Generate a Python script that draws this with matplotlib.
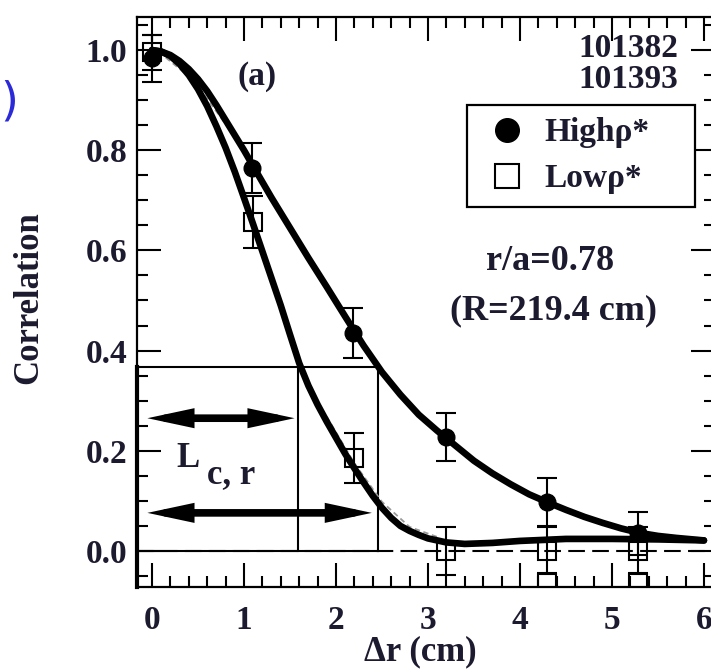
import matplotlib
matplotlib.use("Agg")
import matplotlib.pyplot as plt
from matplotlib.lines import Line2D
from matplotlib.ticker import MultipleLocator

# ---------------- data ----------------
dr_high = [0.0, 1.09, 2.18, 3.20, 4.29, 5.28]
corr_high = [0.984, 0.765, 0.435, 0.228, 0.098, 0.035]
err_high = [0.047, 0.050, 0.050, 0.048, 0.048, 0.043]

dr_low = [0.0, 1.10, 2.20, 3.20, 4.29, 5.28]
corr_low = [0.996, 0.657, 0.186, 0.0, 0.0, 0.0]
err_low_lo = [0.035, 0.052, 0.050, 0.048, 0.044, 0.044]
err_low_hi = [0.035, 0.052, 0.050, 0.048, 0.048, 0.048]

# squares below the axis (clipped at the bottom)
dr_low_out = [4.29, 5.28]
corr_low_out = [-0.064, -0.064]

# fitted curves
fit_high_x = [0.0, 0.1, 0.2, 0.3, 0.4, 0.5, 0.6, 0.7, 0.8, 0.9, 1.0, 1.1, 1.3,
              1.5, 1.7, 1.9, 2.1, 2.3, 2.5, 2.7, 2.9, 3.1, 3.3, 3.5, 3.7, 3.9,
              4.1, 4.3, 4.5, 4.7, 4.9, 5.1, 5.3, 5.5, 5.7, 6.0]
fit_high_y = [1.000, 0.997, 0.990, 0.978, 0.962, 0.942, 0.918, 0.890, 0.860,
              0.830, 0.800, 0.768, 0.705, 0.645, 0.585, 0.527, 0.468, 0.410,
              0.357, 0.312, 0.272, 0.240, 0.210, 0.180, 0.155, 0.133, 0.113,
              0.097, 0.082, 0.068, 0.056, 0.045, 0.036, 0.030, 0.026, 0.021]

fit_low_x = [0.0, 0.1, 0.2, 0.3, 0.4, 0.5, 0.6, 0.7, 0.8, 0.9, 1.0, 1.1, 1.2,
             1.3, 1.4, 1.5, 1.6, 1.7, 1.8, 1.9, 2.0, 2.1, 2.2, 2.3, 2.4, 2.5,
             2.6, 2.7, 2.8, 2.9, 3.0, 3.2, 3.4, 3.7, 4.0, 4.5, 5.0, 5.5, 6.0]
fit_low_y = [1.000, 0.997, 0.988, 0.972, 0.950, 0.922, 0.888, 0.848, 0.805,
             0.757, 0.705, 0.652, 0.598, 0.544, 0.490, 0.432, 0.375, 0.330,
             0.292, 0.258, 0.226, 0.194, 0.165, 0.137, 0.110, 0.086, 0.066,
             0.050, 0.040, 0.032, 0.025, 0.017, 0.014, 0.016, 0.020, 0.024,
             0.024, 0.023, 0.021]

# faint dashed alternative fit segments
alt_a_x = [0.15, 0.35, 0.55, 0.75, 0.95, 1.05]
alt_a_y = [0.985, 0.955, 0.915, 0.865, 0.812, 0.785]
alt_b_x = [1.90, 2.20, 2.50, 2.80, 3.10]
alt_b_y = [0.268, 0.175, 0.098, 0.048, 0.028]

lc_high = 2.46
lc_low = 1.59
efold = 0.368

x_ticks = [0, 1, 2, 3, 4, 5, 6]
y_ticks = [0.0, 0.2, 0.4, 0.6, 0.8, 1.0]

# ---------------- style ----------------
TXT = "#1c1a2e"
plt.rcParams["font.family"] = ["Liberation Serif", "DejaVu Serif"]
plt.rcParams["font.weight"] = "bold"
plt.rcParams["axes.labelweight"] = "bold"

W, H = 711, 670
fig = plt.figure(figsize=(W / 100, H / 100), dpi=100)
ax_l, ax_r, ax_t, ax_b = 137, 715, 17, 587
ax = fig.add_axes([ax_l / W, 1 - ax_b / H, (ax_r - ax_l) / W, (ax_b - ax_t) / H])

ax.set_xlim(-0.163, 6.12)
ax.set_ylim(-0.072, 1.066)

for s in ax.spines.values():
    s.set_linewidth(1.6)

ax.set_xticks(x_ticks)
ax.set_xticklabels([str(v) for v in x_ticks])
ax.set_yticks(y_ticks)
ax.set_yticklabels([f"{v:.1f}" for v in y_ticks])
ax.xaxis.set_minor_locator(MultipleLocator(0.2))
ax.yaxis.set_minor_locator(MultipleLocator(0.05))
ax.tick_params(which="both", direction="in", top=True, right=True, width=1.5,
               colors="k", labelcolor=TXT)
ax.tick_params(which="major", length=17, labelsize=24)
ax.tick_params(which="minor", length=8)
ax.tick_params(axis="x", which="major", pad=13)
ax.tick_params(axis="y", which="major", pad=7)

ax.set_xlabel("Δr (cm)", fontsize=25, color=TXT, va="center", fontweight="bold")
ax.set_ylabel("Correlation", fontsize=25, color=TXT, va="center", fontweight="bold")
ax.xaxis.set_label_coords(0.491, -0.114)
ax.yaxis.set_label_coords(-0.187, 0.507)

# reference lines
ax.axhline(0.0, color="k", lw=1.5, ls=(0, (8, 3.5)), zorder=1)
x0 = ax.get_xlim()[0]
ax.plot([x0, lc_high], [0, 0], color="k", lw=1.5, zorder=2)
ax.plot([x0, lc_high], [efold, efold], color="k", lw=1.5, zorder=2)
ax.plot([lc_low, lc_low], [0, efold], color="k", lw=1.5, zorder=2)
ax.plot([lc_high, lc_high], [0, efold], color="k", lw=1.5, zorder=2)
ax.plot([x0, x0], [-0.072, efold], color="k", lw=3, zorder=2, clip_on=False)

# error bars and markers
ax.errorbar(dr_high, corr_high, yerr=err_high, fmt="o", color="k", ms=12,
            elinewidth=1.5, capsize=7, capthick=1.5, zorder=4)
ax.errorbar(dr_low, corr_low, yerr=[err_low_lo, err_low_hi], fmt="s", color="k",
            mfc="none", mec="k", mew=1.5, ms=13, elinewidth=1.5, capsize=7,
            capthick=1.5, zorder=4)
ax.plot(dr_low_out, corr_low_out, "s", mfc="none", mec="k", mew=1.5, ms=13,
        zorder=4)

# fits
ax.plot(alt_a_x, alt_a_y, color="0.6", lw=1.3, ls=(0, (3, 2)), zorder=3)
ax.plot(alt_b_x, alt_b_y, color="0.6", lw=1.3, ls=(0, (3, 2)), zorder=3)
ax.plot(fit_high_x, fit_high_y, color="k", lw=4.8, zorder=5,
        solid_capstyle="round", solid_joinstyle="round")
ax.plot(fit_low_x, fit_low_y, color="k", lw=4.8, zorder=5,
        solid_capstyle="round", solid_joinstyle="round")

# double arrows
arrow_style = "<|-|>,head_length=0.75,head_width=0.16"
for x_end, y_arr in [(1.55, 0.265), (2.39, 0.076)]:
    ax.annotate("", xy=(x_end, y_arr), xytext=(-0.05, y_arr),
                arrowprops=dict(arrowstyle=arrow_style, lw=5.5, color="k",
                                mutation_scale=24, shrinkA=0, shrinkB=0,
                                joinstyle="miter"), zorder=6)

# texts
ax.text(0.27, 0.168, "L", fontsize=25, color=TXT, va="baseline", ha="left")
ax.text(0.60, 0.136, "c, r", fontsize=25, color=TXT, va="baseline", ha="left")
ax.text(1.14, 0.948, "(a)", fontsize=24, color=TXT, va="center", ha="center")
ax.text(5.72, 1.004, "101382", fontsize=24, color=TXT, va="center", ha="right")
ax.text(5.72, 0.942, "101393", fontsize=24, color=TXT, va="center", ha="right")
ax.text(4.33, 0.577, "r/a=0.78", fontsize=26, color=TXT, va="center", ha="center")
ax.text(4.36, 0.479, "(R=219.4 cm)", fontsize=26, color=TXT, va="center", ha="center")

# legend
handles = [Line2D([], [], marker="o", ls="none", color="k", ms=17),
           Line2D([], [], marker="s", ls="none", mfc="none", mec="k", mew=1.5, ms=17)]
leg = ax.legend(handles, ["Highρ*", "Lowρ*"], loc="upper left",
                bbox_to_anchor=(0.571, 0.663, 0.394, 0.183), mode="expand",
                borderaxespad=0, fontsize=24, frameon=True, fancybox=False,
                framealpha=1, edgecolor="k", borderpad=0.38, handlelength=1.64,
                handletextpad=0.3, labelspacing=0.45, labelcolor=TXT)
leg.get_frame().set_linewidth(1.6)

# blue stray parenthesis at the left edge
fig.text(0.5 / W, 1 - 102 / H, ")", fontsize=33, color="#2a2ad8",
         family="DejaVu Sans", weight="normal", ha="left", va="center")

fig.savefig("out.png", dpi=100)
